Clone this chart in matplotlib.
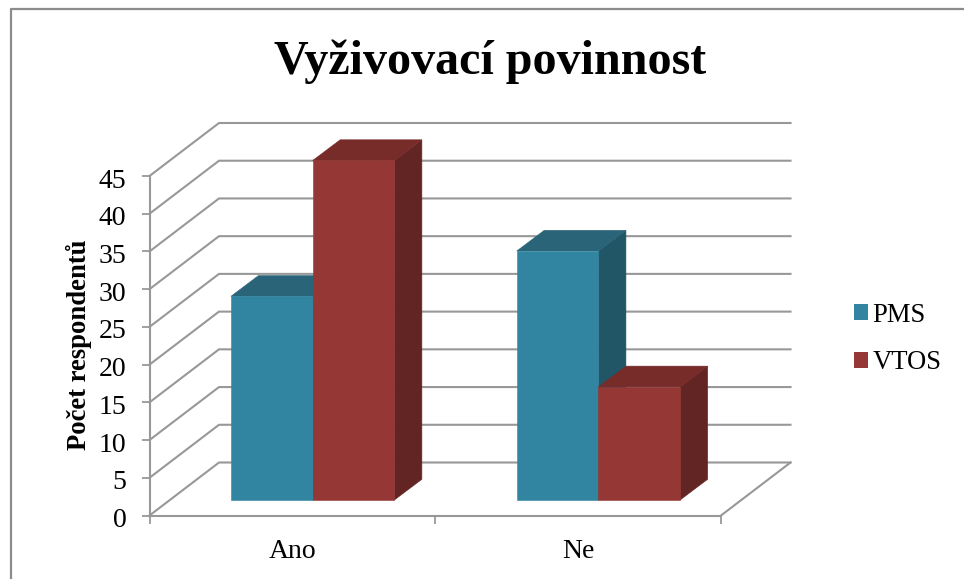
import matplotlib
matplotlib.use("Agg")
import matplotlib.pyplot as plt
from matplotlib.patches import Polygon, Patch
from matplotlib.lines import Line2D
from matplotlib.transforms import ScaledTranslation

plt.rcParams['font.family'] = ['Liberation Serif', 'DejaVu Serif']

title = "Vyživovací povinnost"
categories = ["Ano", "Ne"]
series_names = ["PMS", "VTOS"]
pms_values = [27, 33]
vtos_values = [45, 15]
y_ticks = list(range(0, 50, 5))
y_label = "Počet respondentů"

W, H = 964, 579
fig = plt.figure(figsize=(W / 100, H / 100), dpi=100, facecolor="white")

# front plane of the 3-D box, in pixels
L, R, B, T = 149.5, 721.0, 515.5, 176.0
ax = fig.add_axes([L / W, 1 - B / H, (R - L) / W, (B - T) / H])
ax.set_xlim(0, len(categories))
ax.set_ylim(0, 45)
ax.patch.set_visible(False)

GRID = "#989898"
ppx = (R - L) / len(categories)   # px per category
ppy = (B - T) / 45                # px per unit


def shift(x, v, dx, dy):
    """Project a data point into the oblique depth by a pixel offset."""
    return x + dx / ppx, v + dy / ppy


# outer chart frame (left and top only are visible)
fig.add_artist(Line2D([10.5 / W, 10.5 / W, 1], [0, 1 - 8.5 / H, 1 - 8.5 / H],
                      color="#8c8c8c", lw=1.6))

# walls and floor
WALL = (69.5, 53.0)
xmax = len(categories)
for v in y_ticks:
    bx, by = shift(0, v, *WALL)
    ex, ey = shift(xmax, v, *WALL)
    ax.plot([0, bx, ex], [v, by, ey], color=GRID, lw=1.5, clip_on=False,
            solid_joinstyle="miter", zorder=1)
ex, ey = shift(xmax, 0, *WALL)
ax.plot([xmax, ex], [0, ey], color=GRID, lw=1.5, clip_on=False, zorder=1)

# bars
OFFSET = (20.3, 15.5)
DEPTH = (27.5, 20.7)
BAR_W = 81.7 / ppx
colors = {
    "PMS": ("#3185A0", "#2A6478", "#215666"),
    "VTOS": ("#953735", "#772C2A", "#632523"),
}
z = 3
for i, cat in enumerate(categories):
    for j, (name, vals) in enumerate(zip(series_names, (pms_values, vtos_values))):
        v = vals[i]
        x0 = i + 0.5 + (j - 1) * BAR_W
        x1 = x0 + BAR_W
        front, top, side = colors[name]
        f = [shift(x0, 0, *OFFSET), shift(x1, 0, *OFFSET),
             shift(x1, v, *OFFSET), shift(x0, v, *OFFSET)]
        back = (OFFSET[0] + DEPTH[0], OFFSET[1] + DEPTH[1])
        t = [shift(x0, v, *OFFSET), shift(x1, v, *OFFSET),
             shift(x1, v, *back), shift(x0, v, *back)]
        s = [shift(x1, 0, *OFFSET), shift(x1, 0, *back),
             shift(x1, v, *back), shift(x1, v, *OFFSET)]
        for pts, c in ((s, side), (t, top), (f, front)):
            ax.add_patch(Polygon(pts, closed=True, facecolor=c, edgecolor=c,
                                 lw=0.4, clip_on=False, zorder=z))
        z += 1

# axes
for sp in ("top", "right"):
    ax.spines[sp].set_visible(False)
for sp in ("left", "bottom"):
    ax.spines[sp].set_color(GRID)
    ax.spines[sp].set_linewidth(1.5)
    ax.spines[sp].set_zorder(2)
ax.set_yticks(y_ticks)
ax.set_xticks(range(len(categories) + 1))
ax.set_xticklabels([])
ax.set_xticks([i + 0.5 for i in range(len(categories))], minor=True)
ax.set_xticklabels(categories, minor=True)
ax.tick_params(axis="x", which="major", length=5.5, width=1.3, color=GRID)
ax.tick_params(axis="x", which="minor", length=0, labelsize=20, pad=17, labelcolor="black")
ax.tick_params(axis="y", which="major", length=5.5, width=1.3, color=GRID,
               labelsize=20, pad=11.2, labelcolor="black")
down = ScaledTranslation(0, -1.5 / 72, fig.dpi_scale_trans)
for lab in ax.get_yticklabels():
    lab.set_transform(lab.get_transform() + down)
ax.set_ylabel(y_label, fontsize=19.2, fontweight="bold")
ax.yaxis.set_label_coords((92 - L) / (R - L), (B - 345) / (B - T))

# title
fig.text(490 / W, 1 - 62 / H, title, ha="center", va="center",
         fontsize=34.6, fontweight="bold", color="black")

# legend
handles = [Patch(facecolor=colors[n][0], edgecolor="none") for n in series_names]
fig.legend(handles, series_names, loc="center left",
           bbox_to_anchor=(854 / W, 1 - 339 / H), frameon=False, fontsize=19.2,
           handlelength=0.52, handleheight=0.52, handletextpad=0.17,
           labelspacing=0.86, borderaxespad=0, borderpad=0)

fig.savefig("out.png", dpi=100, facecolor="white")
